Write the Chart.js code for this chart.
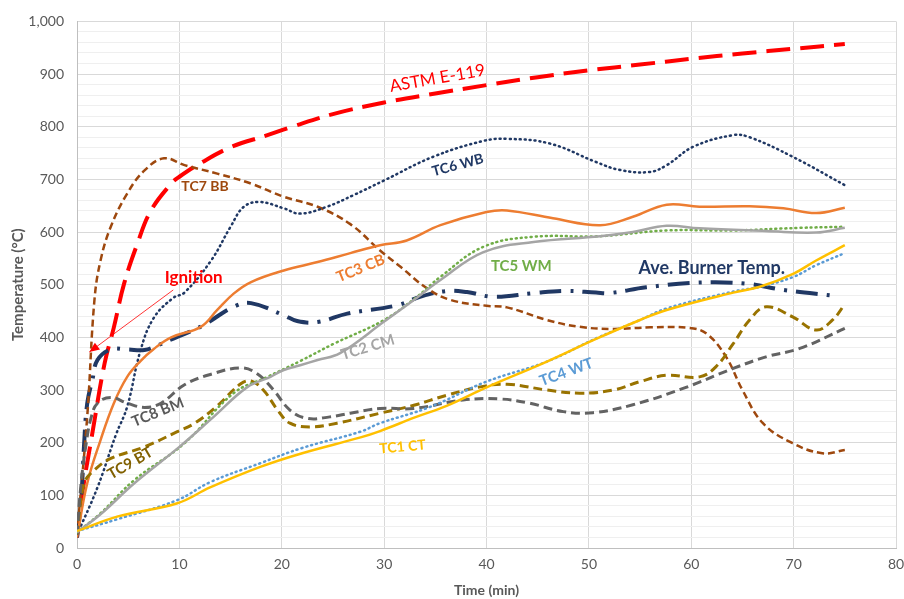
<!DOCTYPE html>
<html>
<head>
<meta charset="utf-8">
<script src="https://cdn.jsdelivr.net/npm/chart.js@4.4.1/dist/chart.umd.min.js"></script>
<style>
  html, body { margin: 0; padding: 0; background: #fff; }
  #wrap { width: 904px; height: 599px; position: relative; }
</style>
</head>
<body>
<div id="wrap"><canvas id="fireChart"></canvas></div>
<script>
// Time (min) / temperature (°C) pairs, one pair of arrays per curve
const astmTime = [0, 0.4, 1.5, 2.7, 3.6, 4.6, 5.9, 7.2, 9.2, 10, 12, 15, 18.6, 21, 25, 30, 35, 40, 45, 50, 55, 60, 65, 70, 75];
const astmTemp = [20, 90, 218, 351, 419, 502, 578, 640, 692, 705, 730, 761, 784, 800, 824, 846, 863, 879, 894, 907, 918, 929, 939, 948, 957];

const tc7Time = [0, 1, 1.7, 2.3, 3.3, 4.9, 6.6, 8.5, 10.5, 13.7, 17, 20.2, 23.5, 26.7, 29.6, 31.6, 34.2, 36.5, 40, 42, 45.9, 49.1, 52.3, 56, 59.8, 61.5, 63.4, 65, 67, 69.9, 72.8, 75];
const tc7Temp = [25, 250, 470, 546, 610, 673, 717, 740, 727, 711, 692, 667, 648, 615, 565, 534, 493, 471, 460, 457, 433, 420, 416, 419, 418, 407, 363, 300, 237, 199, 180, 186];

const tc6Time = [0, 2, 3.8, 4.9, 6.2, 7.5, 9.4, 10.5, 13.1, 15, 16.3, 17.9, 20.2, 21.8, 24.4, 27, 30, 34.8, 39.7, 42, 46.2, 50.7, 53, 55.9, 57.6, 60.2, 64.1, 65.7, 69.9, 75];
const tc6Temp = [25, 115, 215, 268, 375, 437, 475, 485, 546, 610, 648, 657, 645, 635, 648, 670, 698, 743, 773, 777, 768, 733, 718, 714, 727, 762, 784, 780, 743, 689];

const tc3Time = [0, 1, 2.3, 3.6, 4.9, 6.2, 7.5, 9.2, 12.1, 13.7, 15.3, 17, 20.2, 23.5, 26.7, 29.6, 32.2, 35.5, 40, 42, 46.5, 51.1, 54.3, 57.6, 60.8, 65.7, 69, 72.2, 75];
const tc3Temp = [20, 123, 205, 275, 325, 355, 378, 400, 420, 452, 483, 505, 527, 543, 560, 575, 584, 613, 638, 641, 626, 613, 629, 652, 648, 649, 645, 636, 646];

const burnerTime = [0, 0.4, 0.7, 1, 1.5, 2, 3.3, 4.9, 6.6, 7.9, 9.8, 11.4, 12.6, 15.3, 17, 20.2, 21.5, 23.5, 26.4, 31.3, 33.5, 36.1, 38.1, 40.7, 44.6, 47.8, 50.7, 52, 55.6, 60.5, 65.4, 69, 74];
const burnerTemp = [20, 91, 199, 275, 319, 357, 377, 377, 376, 385, 401, 414, 426, 458, 465, 442, 431, 429, 445, 461, 477, 488, 486, 477, 484, 488, 485, 484, 495, 504, 502, 490, 479];

const tc5Time = [0, 2.3, 5.6, 10.5, 15.3, 18.6, 21.8, 25.1, 30, 33.2, 35.5, 39.7, 44.6, 51, 57.6, 64.1, 70.6, 75];
const tc5Temp = [30, 66, 129, 199, 294, 325, 355, 388, 433, 477, 515, 572, 591, 592, 603, 603, 608, 610];

const tc2Time = [0, 2.3, 5.6, 10, 13.4, 16.6, 18.9, 20.2, 21.8, 23.5, 25.7, 30, 32.9, 35.5, 39.7, 44.6, 51.1, 54.3, 57.6, 60.8, 67.3, 72.2, 75];
const tc2Temp = [30, 64, 123, 192, 250, 305, 325, 338, 347, 357, 370, 430, 471, 509, 562, 581, 592, 600, 612, 607, 602, 599, 608];

const tc4Time = [0, 4, 9.8, 13, 17.9, 22, 27.7, 29.6, 34.5, 40, 45.9, 50.7, 55, 57.6, 64.1, 66.7, 70, 72.2, 75];
const tc4Temp = [32, 55, 91, 125, 161, 190, 221, 237, 268, 316, 354, 398, 433, 455, 487, 496, 515, 537, 560];

const tc1Time = [0, 4, 9.8, 13, 17.9, 22, 27.7, 29.6, 33, 36.1, 40, 45.9, 50.7, 55, 57.6, 64.1, 66.7, 70, 72.2, 75];
const tc1Temp = [32, 60, 85, 115, 154, 180, 210, 222, 248, 270, 305, 354, 397, 433, 452, 485, 496, 521, 546, 575];

const tc8Time = [0, 0.4, 0.9, 1.4, 2, 3.3, 4.9, 6.6, 8.2, 10.5, 13.1, 16, 17.6, 19.2, 20.8, 22.5, 24.7, 26.7, 29.6, 32.9, 37.7, 41.3, 44.2, 47.5, 50.4, 54.3, 59.2, 64.1, 67.3, 70.6, 75];
const tc8Temp = [25, 123, 199, 249, 275, 286, 275, 267, 275, 310, 330, 342, 331, 300, 262, 246, 249, 256, 265, 265, 281, 283, 275, 259, 257, 272, 303, 341, 363, 379, 417];

const tc9Time = [0, 0.7, 1.7, 3.3, 6.6, 9.8, 11.5, 13.7, 16, 17, 18.2, 19.6, 20.8, 22.8, 25.4, 29.6, 32.9, 36.1, 39.4, 42, 45.9, 49.1, 52.4, 55, 57.6, 60.8, 62.4, 64.1, 65.7, 67.3, 69.9, 72.2, 73.8, 75];
const tc9Temp = [25, 123, 148, 170, 192, 221, 237, 270, 312, 317, 300, 262, 237, 230, 237, 256, 271, 290, 306, 311, 300, 294, 300, 316, 328, 325, 344, 388, 433, 458, 439, 414, 433, 463];

const yTickLabels = [0, 100, 200, 300, 400, 500, 600, 700, 800, 900, 1000];
const xTickLabels = [0, 10, 20, 30, 40, 50, 60, 70, 80];

function pts(times, temps) {
    return times.map((t, i) => ({ x: t, y: temps[i] }));
}

function makeSet(label, times, temps, color, width, dash, cap) {
    return {
        label: label,
        data: pts(times, temps),
        borderColor: color,
        backgroundColor: color,
        borderWidth: width,
        borderDash: dash,
        borderCapStyle: cap || 'butt',
        pointRadius: 0,
        tension: 0.4,
        fill: false
    };
}

// Text labels sitting on the plot (data coordinates)
const notes = [
    { text: 'ASTM E-119', x: 35.2, y: 892, color: '#FF0000', rot: -10, size: 17, bold: false },
    { text: 'TC7 BB', x: 12.5, y: 687, color: '#9E480E', rot: 0, size: 14, bold: true },
    { text: 'TC6 WB', x: 37.2, y: 727, color: '#203864', rot: -15, size: 14, bold: true },
    { text: 'TC3 CB', x: 27.7, y: 531, color: '#ED7D31', rot: -22, size: 15, bold: true },
    { text: 'TC5 WM', x: 43.4, y: 535, color: '#70AD47', rot: 0, size: 15, bold: true },
    { text: 'Ave. Burner Temp.', x: 62, y: 531, color: '#203864', rot: 0, size: 18, bold: true },
    { text: 'TC2 CM', x: 28.4, y: 381, color: '#A5A5A5', rot: -17, size: 15, bold: true },
    { text: 'TC4 WT', x: 47.8, y: 334, color: '#5B9BD5', rot: -20, size: 15, bold: true },
    { text: 'TC1 CT', x: 31.8, y: 192, color: '#FFC000', rot: -5, size: 14, bold: true },
    { text: 'TC8 BM', x: 7.9, y: 258, color: '#595959', rot: -22, size: 15, bold: true },
    { text: 'TC9 BT', x: 5.2, y: 161, color: '#806000', rot: -30, size: 15, bold: true },
    { text: 'Ignition', x: 11.4, y: 514, color: '#FF0000', rot: 0, size: 17, bold: true }
];
const ignitionArrow = { fromX: 9.4, fromY: 490, toX: 1.2, toY: 372 };

const notesPlugin = {
    id: 'notes',
    afterDatasetsDraw(chart) {
        const ctx = chart.ctx;
        const xs = chart.scales.x, ys = chart.scales.y;
        ctx.save();
        // arrow for ignition
        const x1 = xs.getPixelForValue(ignitionArrow.fromX), y1 = ys.getPixelForValue(ignitionArrow.fromY);
        const x2 = xs.getPixelForValue(ignitionArrow.toX), y2 = ys.getPixelForValue(ignitionArrow.toY);
        ctx.strokeStyle = '#FF0000';
        ctx.fillStyle = '#FF0000';
        ctx.lineWidth = 0.8;
        ctx.beginPath();
        ctx.moveTo(x1, y1);
        ctx.lineTo(x2, y2);
        ctx.stroke();
        const ang = Math.atan2(y2 - y1, x2 - x1);
        ctx.beginPath();
        ctx.moveTo(x2, y2);
        ctx.lineTo(x2 - 11 * Math.cos(ang - 0.4), y2 - 11 * Math.sin(ang - 0.4));
        ctx.lineTo(x2 - 11 * Math.cos(ang + 0.4), y2 - 11 * Math.sin(ang + 0.4));
        ctx.closePath();
        ctx.fill();

        notes.forEach(n => {
            ctx.save();
            ctx.translate(xs.getPixelForValue(n.x), ys.getPixelForValue(n.y));
            ctx.rotate(n.rot * Math.PI / 180);
            ctx.font = (n.bold ? 'bold ' : '') + n.size + 'px Lato';
            ctx.fillStyle = n.color;
            ctx.textAlign = 'center';
            ctx.textBaseline = 'middle';
            ctx.fillText(n.text, 0, 0);
            ctx.restore();
        });
        ctx.restore();
    }
};

const canvas = document.getElementById('fireChart');
canvas.width = 904;
canvas.height = 599;

new Chart(canvas.getContext('2d'), {
    type: 'line',
    data: {
        datasets: [
            makeSet('TC1 CT', tc1Time, tc1Temp, '#FFC000', 2.5, []),
            makeSet('TC4 WT', tc4Time, tc4Temp, '#5B9BD5', 2.5, [1, 4], 'round'),
            makeSet('TC2 CM', tc2Time, tc2Temp, '#A5A5A5', 2.5, []),
            makeSet('TC5 WM', tc5Time, tc5Temp, '#70AD47', 2.5, [1, 4], 'round'),
            makeSet('TC8 BM', tc8Time, tc8Temp, '#636363', 3, [9, 5]),
            makeSet('TC9 BT', tc9Time, tc9Temp, '#997300', 3, [9, 5]),
            makeSet('TC3 CB', tc3Time, tc3Temp, '#ED7D31', 2.5, []),
            makeSet('TC6 WB', tc6Time, tc6Temp, '#203864', 2.5, [1, 4], 'round'),
            makeSet('TC7 BB', tc7Time, tc7Temp, '#9E480E', 2.5, [7, 4]),
            makeSet('Ave. Burner Temp.', burnerTime, burnerTemp, '#203864', 4, [22, 9, 3, 9]),
            makeSet('ASTM E-119', astmTime, astmTemp, '#FF0000', 4, [24, 10])
        ]
    },
    options: {
        responsive: false,
        animation: false,
        layout: { padding: { top: 18, right: 8, left: 0, bottom: 0 } },
        plugins: {
            legend: { display: false },
            tooltip: { enabled: false }
        },
        scales: {
            x: {
                type: 'linear',
                min: 0,
                max: 80,
                afterBuildTicks: axis => { axis.ticks = xTickLabels.map(v => ({ value: v })); },
                afterFit: axis => {
                    axis.height = 51;
                    axis.paddingRight = 0;
                    axis.paddingLeft = 0;
                },
                grid: { color: '#D9D9D9', lineWidth: 1, drawTicks: false },
                border: { color: '#BFBFBF' },
                ticks: { color: '#595959', font: { family: 'Lato', size: 14 }, padding: 8 },
                title: { display: true, text: 'Time (min)', color: '#595959', font: { family: 'Lato', size: 14, weight: 'bold' }, padding: { top: 6, bottom: 0 } }
            },
            y: {
                min: 0,
                max: 1000,
                afterBuildTicks: axis => {
                    const t = [];
                    for (let v = 0; v <= 1000; v += 20) t.push({ value: v });
                    axis.ticks = t;
                },
                afterFit: axis => { axis.width = 77; },
                grid: {
                    color: c => (c.tick && c.tick.value % 100 === 0) ? '#D9D9D9' : '#EFEFEF',
                    lineWidth: 1,
                    drawTicks: false
                },
                border: { color: '#BFBFBF' },
                ticks: {
                    autoSkip: false,
                    color: '#595959',
                    font: { family: 'Lato', size: 14 },
                    padding: 13,
                    callback: v => yTickLabels.includes(v) ? v.toLocaleString('en-US') : ''
                },
                title: { display: true, text: 'Temperature (°C)', color: '#595959', font: { family: 'Lato', size: 15, weight: 'bold' }, padding: { top: 9, bottom: 0 } }
            }
        }
    },
    plugins: [notesPlugin]
});
</script>
</body>
</html>
